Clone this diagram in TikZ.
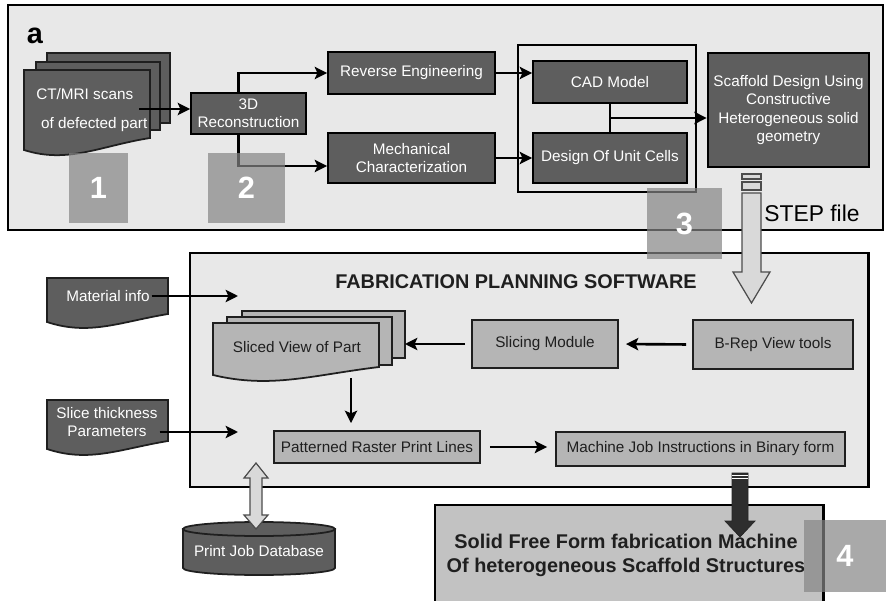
\documentclass[tikz,border=0pt]{standalone}
\usepackage{fontspec}
\setmainfont{Liberation Sans}
\usepackage{xcolor}
\usetikzlibrary{calc, arrows.meta}
\definecolor{darkfill}{gray}{0.37}
\definecolor{midfill}{gray}{0.71}
\definecolor{panelfill}{gray}{0.91}
\definecolor{basefill}{gray}{0.76}
\definecolor{tagfill}{gray}{0.52}
\definecolor{pipefill}{gray}{0.85}
\definecolor{inkgray}{gray}{0.12}

% page with a wavy lower edge: [style]{x1}{y1}{x2}{y lower left}{y lower right}
\newcommand{\docpage}[6][]{%
  \filldraw[#1] (#2,#3) -- (#4,#3) -- (#4,#6)
    .. controls ({#2+0.6*(#4-#2)},{#6+8}) and ({#2+0.35*(#4-#2)},{#5+14}) .. (#2,#5) -- cycle;}

\begin{document}
\begin{tikzpicture}[x=0.02cm, y=-0.02cm]
% Define styles
\tikzstyle{darkblock} = [rectangle, draw=black, line width=1.1pt, fill=darkfill, text=white, align=center, font=\fontsize{8.7}{10.2}\selectfont]
\tikzstyle{lightblock} = [rectangle, draw=inkgray, line width=1.1pt, fill=midfill, text=inkgray, align=center, font=\fontsize{8.7}{10.2}\selectfont]
\tikzstyle{darkpage} = [draw=inkgray, line width=1pt, fill=darkfill]
\tikzstyle{lightpage} = [draw=inkgray, line width=1pt, fill=midfill]
\tikzstyle{pagetext} = [text=white, align=center, inner sep=1pt, font=\fontsize{8.7}{10.2}\selectfont]
\tikzstyle{frame} = [draw=black, fill=panelfill]
\tikzstyle{tag} = [fill=tagfill, fill opacity=0.7, text opacity=1, text=white, inner sep=0pt, font=\fontsize{17.5}{20}\selectfont\bfseries]
\tikzstyle{arrow} = [line width=1.5pt, ->, >={Stealth[length=7pt,width=7pt,inset=1.5pt]}]
\tikzstyle{pipe} = [draw=black!70, line width=0.7pt, fill=pipefill]

\useasboundingbox (0,0) rectangle (886,601);

% Upper panel
\draw[frame, line width=1.2pt] (8,5) rectangle (883,230);
\node (lbl) [font=\fontsize{16.4}{18}\selectfont\bfseries] at (35,35.5) {a};

\filldraw[darkpage] (47,53) rectangle (170,123);
\filldraw[darkpage] (36,62) rectangle (160,130);
\docpage[darkpage]{24}{70}{150}{150}{138}
\node (scans) [pagetext, align=left, anchor=west, inner sep=0pt, font=\fontsize{8.7}{16.5}\selectfont] at (36,110.5) {CT/MRI scans\\\hspace{2.7pt}of defected part};
\coordinate (scanout) at (139,109);

\node (recon) [darkblock, minimum width=2.3cm, minimum height=0.82cm] at (248.5,113.5) {3D\\Reconstruction};
\node (rev) [darkblock, minimum width=3.34cm, minimum height=0.84cm] at (411.5,73) {Reverse Engineering};
\node (mech) [darkblock, minimum width=3.34cm, minimum height=1.0cm] at (411.5,158) {Mechanical\\Characterization};

\draw[line width=0.8pt] (518,45) rectangle (696,192);
\node (cad) [darkblock, minimum width=3.08cm, minimum height=0.84cm] at (610,82) {CAD Model};
\node (cells) [darkblock, minimum width=3.08cm, minimum height=1.0cm] at (610,158) {Design Of Unit Cells};
\node (scaffold) [darkblock, minimum width=3.22cm, minimum height=2.28cm, font=\fontsize{8.7}{10.5}\selectfont] at (788.5,110) {Scaffold Design Using\\Constructive\\Heterogeneous solid\\geometry};
\coordinate (cadjoin) at ($(cad.south)!0.5!(cells.north)$);

\node (stepnote) [font=\fontsize{13}{15}\selectfont] at (812,213) {STEP file};

% Lower panel
\draw[frame, line width=1.7pt] (190,253) rectangle (868,487);
\node (title) [text=inkgray, font=\fontsize{11.3}{13}\selectfont\bfseries] at (516,282) {FABRICATION PLANNING SOFTWARE};

\docpage[darkpage]{47}{278}{168}{322}{314}
\node (matinfo) [pagetext] at (108,296) {Material info};
\coordinate (matin) at (238,295);

\docpage[darkpage]{47}{400}{168}{449}{441}
\node (slicepar) [pagetext, font=\fontsize{8.7}{10.3}\selectfont] at (107,422) {Slice thickness\\Parameters};
\coordinate (slicein) at (238,432);

\filldraw[lightpage] (242,311) rectangle (405,358);
\filldraw[lightpage] (227,317) rectangle (392,365);
\docpage[lightpage]{213}{323}{379}{375}{367}
\node (sliced) [pagetext, text=inkgray] at (297,347) {Sliced View of Part};
\coordinate (slicedback) at (405,343);
\coordinate (slicedfoot) at (351,378);

\node (slicing) [lightblock, minimum width=2.92cm, minimum height=0.96cm] at (545,344) {Slicing Module};
\node (brep) [lightblock, minimum width=3.2cm, minimum height=0.98cm] at (773,344.5) {B-Rep View tools};
\node (raster) [lightblock, minimum width=4.12cm, minimum height=0.64cm] at (377,447) {Patterned Raster Print Lines};
\node (jobs) [lightblock, minimum width=5.78cm, minimum height=0.68cm] at (700.5,449) {Machine Job Instructions in Binary form};

% Print job database
\filldraw[darkpage] (183,529) -- (183,568) arc[start angle=180, end angle=0, x radius=76, y radius=7] -- (335,529) -- cycle;
\filldraw[darkpage] (259,529) ellipse [x radius=76, y radius=7];
\node (db) [pagetext] at (259,551) {Print Job Database};

% Fabrication machine
\fill[basefill] (435,505) rectangle (823,601);
\draw[line width=1.7pt] (435,603) -- (435,505) -- (823,505) -- (823,603);
\node (machine) [text=inkgray, align=center, font=\fontsize{11.3}{13.7}\selectfont\bfseries] at (626,555) {Solid Free Form fabrication Machine\\Of heterogeneous Scaffold Structures};

% Draw arrows
\draw[arrow] (scanout) -- (recon.west |- scanout);
\draw[arrow] ([xshift=-0.2cm]recon.north) |- (rev.west);
\draw[arrow] ([xshift=-0.2cm]recon.south) |- ([yshift=-0.16cm]mech.west);
\draw[arrow] (rev.east) -- (rev.east -| cad.west);
\draw[arrow] (mech.east) -- (mech.east -| cells.west);
\draw[line width=1.5pt] (cad.south) -- (cells.north);
\draw[arrow] (cadjoin) -- (cadjoin -| scaffold.west);
\draw[arrow] (matinfo.east) -- (matinfo.east -| matin);
\draw[arrow] (slicepar.east |- slicein) -- (slicein);
\draw[arrow, shorten <=0.12cm, shorten >=0.14cm] (brep.west) -- (slicing.east);
\draw[arrow, shorten <=0.12cm] (slicing.west) -- (slicing.west -| slicedback);
\draw[arrow] (slicedfoot) -- ([yshift=0.14cm]slicedfoot |- raster.north);
\draw[arrow, shorten <=0.18cm, shorten >=0.16cm] (raster.east) -- (raster.east -| jobs.west);

% Block arrows
\filldraw[pipe] (742,174) rectangle (761,179);
\filldraw[pipe] (742,182) rectangle (761,190);
\filldraw[pipe] (742,193) -- (761,193) -- (761,272) -- (770,272) -- (751.5,303) -- (733,272) -- (742,272) -- cycle;
\filldraw[pipe] (256,463) -- (268,478) -- (262,478) -- (262,515) -- (268,515) -- (256,529) -- (244,515) -- (250,515) -- (250,478) -- (244,478) -- cycle;
\filldraw[draw=black!85, fill=black!82] (732,473) -- (748,473) -- (748,521) -- (755,521) -- (740,537) -- (725,521) -- (732,521) -- cycle;
\draw[white, line width=0.6pt] (732,475.5) -- (748,475.5) (732,478.5) -- (748,478.5);

% Step tags
\node (tag1) [tag, minimum width=1.18cm, minimum height=1.4cm] at (98.5,188) {1};
\node (tag2) [tag, minimum width=1.54cm, minimum height=1.4cm] at (246.5,188) {2};
\node (tag3) [tag, minimum width=1.5cm, minimum height=1.42cm] at (684.5,223.5) {3};
\node (tag4) [tag, minimum width=1.64cm, minimum height=1.44cm] at (845,556) {4};
\end{tikzpicture}
\end{document}
